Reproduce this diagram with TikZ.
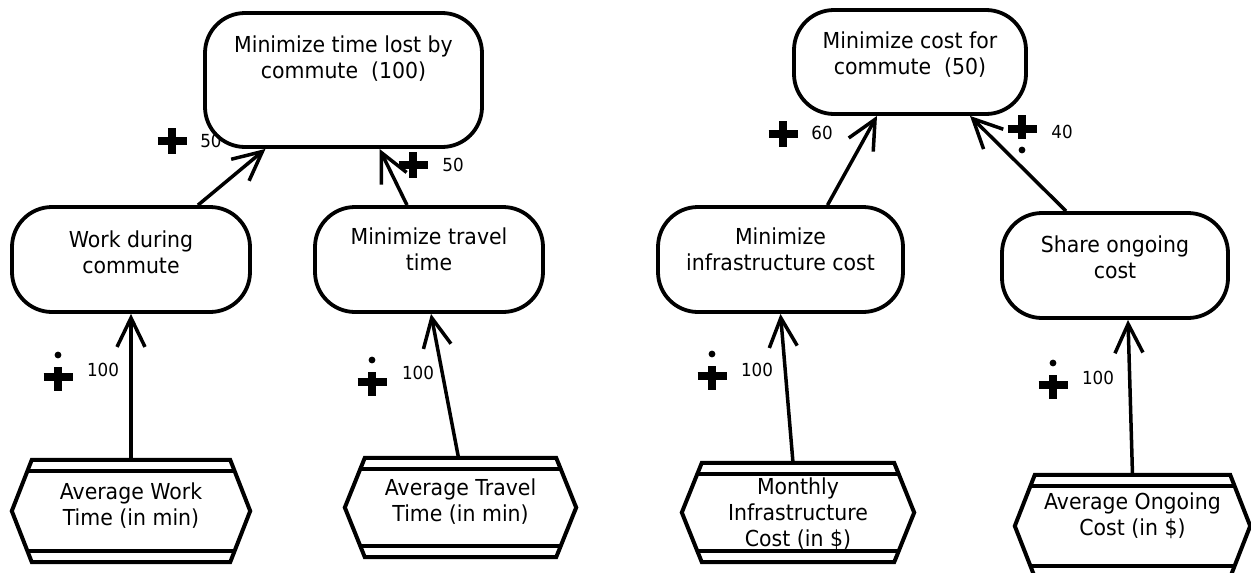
\documentclass[tikz,border=0pt]{standalone}
\usepackage{fontspec}
\setmainfont{DejaVu Sans}[FakeStretch=0.93]
\usetikzlibrary{arrows.meta,calc,positioning}

\begin{document}
\begin{tikzpicture}[
  x=1pt,y=-1pt,
  every node/.style={font=\fontsize{22}{26}\selectfont},
  goal/.style={draw,line width=3.8pt,rounded corners=40pt,align=center,
    minimum height=105pt,text depth=18pt,inner sep=2pt},
  indbox/.style={align=center,minimum height=100pt,text depth=14pt,inner sep=0pt},
  ind/.style={line width=4pt,line join=miter},
  arr/.style={-{Straight Barb[length=29pt,width=28pt]},line width=3.5pt},
  val/.style={font=\fontsize{18}{20}\selectfont,inner sep=0pt},
  cplus/.pic={\draw[line width=7.5pt] (-14.5,0) -- (14.5,0) (0,-13) -- (0,13);},
  cplusup/.pic={\draw[line width=7.5pt] (-14.5,0) -- (14.5,0) (0,-10) -- (0,14);
    \fill (0,-22) circle[radius=3.4];},
  cplusdown/.pic={\draw[line width=7.5pt] (-14.5,0) -- (14.5,0) (0,-14) -- (0,10);
    \fill (0,21) circle[radius=3.4];}]
  \path[use as bounding box] (0,0) rectangle (1251,573);

  % Left tree: time lost by commute.
  \node[goal,minimum width=277pt,minimum height=134pt,text depth=45pt] (time)
    at (343.5,80) {Minimize time lost by\\commute\ \ (100)};
  \node[goal,minimum width=238pt,text depth=14pt] (work) at (131,259.5)
    {Work during\\commute};
  \node[goal,minimum width=228pt,text depth=20pt] (travel) at (429,259.5)
    {Minimize travel\\time};
  \node[indbox,minimum width=238pt,minimum height=102pt,text depth=13pt] (worktime)
    at (131,511) {Average Work\\Time (in min)};
  \node[indbox,minimum width=231pt,minimum height=99pt] (traveltime)
    at (460.5,507.5) {Average Travel\\Time (in min)};

  % Right tree: cost for commute.
  \node[goal,minimum width=232pt,minimum height=104pt] (cost)
    at (910,62) {Minimize cost for\\commute\ \ (50)};
  \node[goal,minimum width=245pt,text depth=20pt] (infra) at (780.5,259.5)
    {Minimize\\infrastructure cost};
  \node[goal,minimum width=226pt,text depth=16pt] (share) at (1115,265.5)
    {Share ongoing\\cost};
  \node[indbox,minimum width=232pt,minimum height=99pt,text depth=0pt] (infracost)
    at (798,512.5) {Monthly\\Infrastructure\\Cost (in \$)};
  \node[indbox,minimum width=235pt,minimum height=102pt,text depth=23pt] (ongoing)
    at (1132.5,526) {Average Ongoing\\Cost (in \$)};

  % indicator outlines with double bars
  \foreach \n in {worktime,traveltime,infracost,ongoing} {
    \draw[ind] ([xshift=20pt]\n.north west) -- ([xshift=-20pt]\n.north east)
      -- (\n.east) -- ([xshift=-20pt]\n.south east)
      -- ([xshift=20pt]\n.south west) -- (\n.west) -- cycle;
    \draw[ind] ($([xshift=20pt]\n.north west)!.22!(\n.west)$)
      -- ($([xshift=-20pt]\n.north east)!.22!(\n.east)$);
    \draw[ind] ($([xshift=20pt]\n.south west)!.22!(\n.west)$)
      -- ($([xshift=-20pt]\n.south east)!.22!(\n.east)$);
  }

  % contributions
  \draw[arr] ([xshift=67pt]work.north) -- ([xshift=-78pt]time.south);
  \draw[arr] ([xshift=-22pt]travel.north) -- ([xshift=36pt]time.south);
  \draw[arr] (worktime.north) -- (work.south);
  \draw[arr] ([xshift=-2pt]traveltime.north) -- ([xshift=2pt]travel.south);
  \draw[arr] ([xshift=-5pt]infracost.north) -- (infra.south);
  \draw[arr] (ongoing.north) -- ([xshift=13pt]share.south);
  \draw[arr] ([xshift=47pt]infra.north) -- ([xshift=-33pt]cost.south);
  \draw[arr] ([xshift=-49pt]share.north) -- ([xshift=60pt]cost.south);

  \pic (c1) at (172,141) {cplus};
  \node[val] (v1) at (211,141) {50};
  \pic (c2) at (413,165) {cplus};
  \node[val] (v2) at (453,165) {50};
  \pic (c3) at (58,377) {cplusup};
  \node[val] (v3) at (103,370) {100};
  \pic (c4) at (372,382) {cplusup};
  \node[val] (v4) at (418,373) {100};
  \pic (c5) at (712,376) {cplusup};
  \node[val] (v5) at (757,370) {100};
  \pic (c6) at (1053,385) {cplusup};
  \node[val] (v6) at (1098,378) {100};
  \pic (c7) at (783,134) {cplus};
  \node[val] (v7) at (822,133) {60};
  \pic (c8) at (1022,129) {cplusdown};
  \node[val] (v8) at (1062,132) {40};
\end{tikzpicture}
\end{document}
